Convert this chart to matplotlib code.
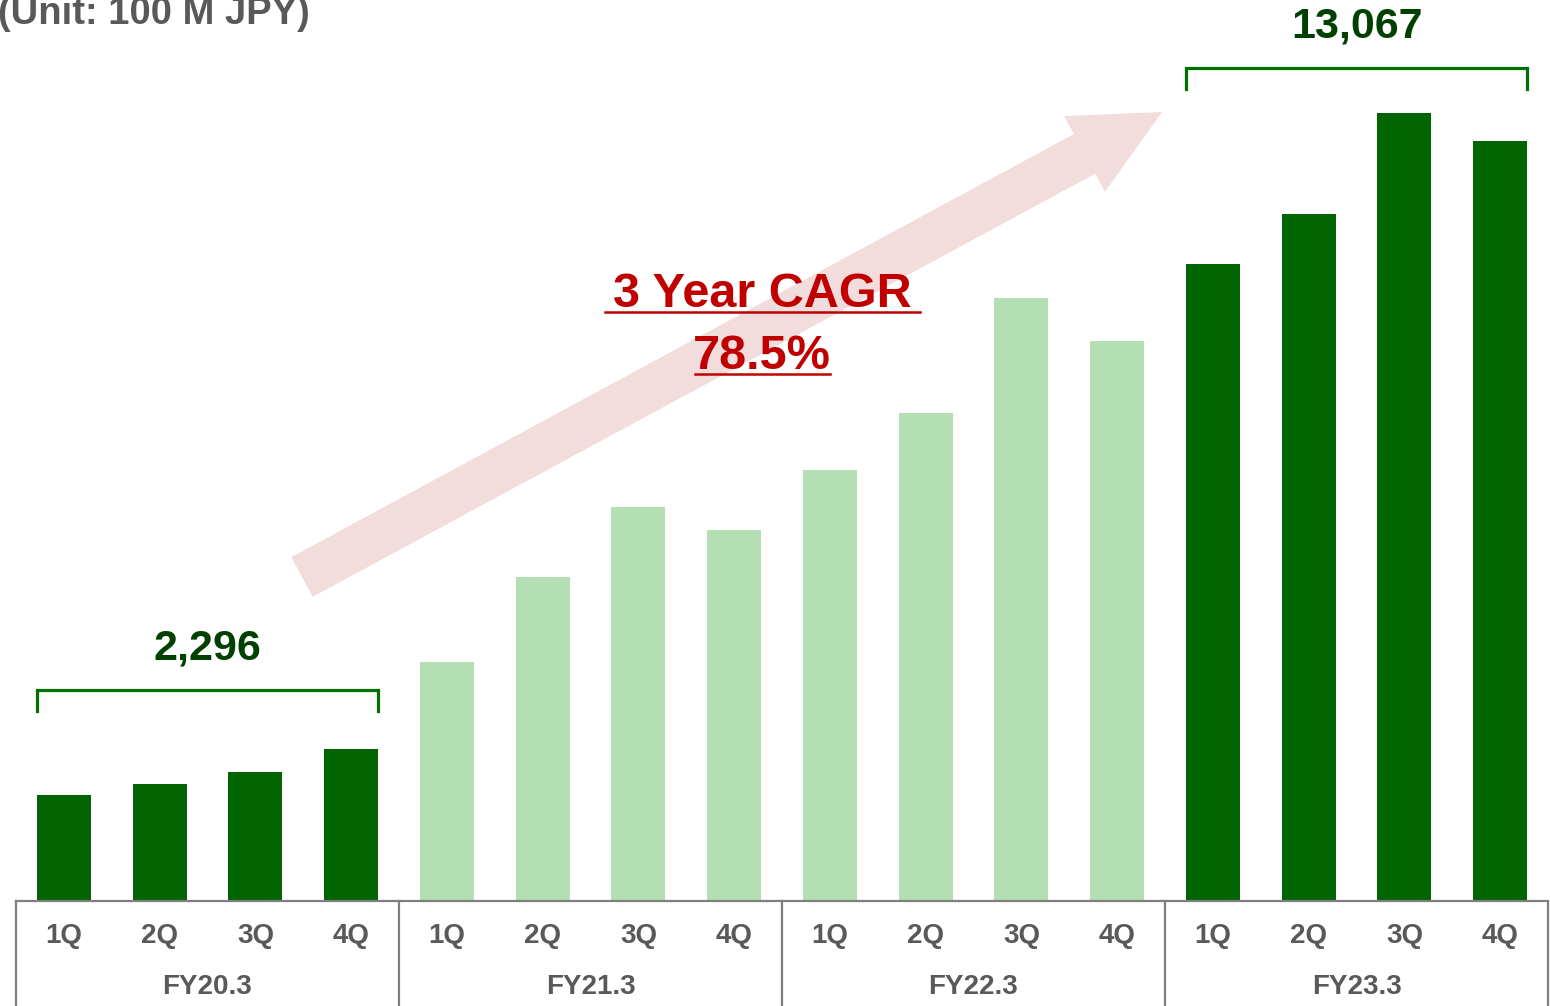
import matplotlib.pyplot as plt
from matplotlib.patches import FancyArrow
from matplotlib.lines import Line2D

plt.rcParams["font.family"] = ["Liberation Sans", "DejaVu Sans"]

fiscal_years = ["FY20.3", "FY21.3", "FY22.3", "FY23.3"]
quarters = ["1Q", "2Q", "3Q", "4Q"]
fy20 = [484, 534, 585, 693]
fy21 = [1088, 1474, 1793, 1688]
fy22 = [1961, 2221, 2744, 2548]
fy23 = [2900, 3124, 3585, 3458]
totals = {"FY20.3": "2,296", "FY23.3": "13,067"}

DARK = "#006400"
LIGHT = "#b3dfb3"
GRAY = "#595959"
LINE = "#7f7f7f"

W, H = 1550, 1006
fig = plt.figure(figsize=(W / 100, H / 100), dpi=100)


def fx(px):
    return px / W


def fy(py):
    return 1 - py / H


ax = fig.add_axes([fx(16), fy(901), fx(1548) - fx(16), fy(0) - fy(901)])
ax.set_xlim(-0.5, 15.5)
ax.set_ylim(0, 4100)
ax.axis("off")

groups = [fy20, fy21, fy22, fy23]
colors = [DARK, LIGHT, LIGHT, DARK]
for g, (vals, col) in enumerate(zip(groups, colors)):
    xs = [g * 4 + i for i in range(4)]
    ax.bar(xs, vals, width=0.564, color=col, zorder=3)

# brackets with totals over first and last year
for g, offset in [(0, 267), (3, 205)]:
    vals = groups[g]
    top = max(vals) + offset
    x0 = g * 4 - 0.28
    x1 = g * 4 + 3 + 0.28
    ax.plot([x0, x0, x1, x1], [top - 95, top, top, top - 95],
            color="#007000", lw=2.3, solid_joinstyle="miter", zorder=4)
    ax.text((x0 + x1) / 2, top + 100, totals[fiscal_years[g]],
            ha="center", va="bottom", fontsize=31, fontweight="bold",
            color="#004000")

# growth arrow
arrow = FancyArrow(3.02, 4.29, 8.60, 4.65, width=0.45, head_width=0.86,
                   head_length=0.88, length_includes_head=True,
                   color="#f2dcdc", lw=0, transform=fig.dpi_scale_trans,
                   zorder=1)
fig.add_artist(arrow)

red = "#c00000"
fig.text(fx(762), fy(307), "3 Year CAGR", ha="center", va="baseline",
         fontsize=35, fontweight="bold", color=red)
fig.add_artist(Line2D([fx(605), fx(920)], [fy(312), fy(312)], color=red, lw=1.8))
fig.text(fx(762), fy(369), "78.5%", ha="center", va="baseline",
         fontsize=35, fontweight="bold", color=red)
fig.add_artist(Line2D([fx(695), fx(830)], [fy(374), fy(374)], color=red, lw=1.8))

fig.text(fx(-2), fy(24), "(Unit: 100 M JPY)", ha="left", va="baseline",
         fontsize=27.5, fontweight="bold", color=GRAY)

# category table below the bars
fig.add_artist(Line2D([fx(16), fx(1548)], [fy(901), fy(901)], color=LINE, lw=1.6))
for px in [16, 399, 782, 1165, 1548]:
    fig.add_artist(Line2D([fx(px), fx(px)], [fy(901), fy(1006)], color=LINE, lw=1.6))

for g, fyname in enumerate(fiscal_years):
    for i, q in enumerate(quarters):
        ax.text(g * 4 + i, -158, q, ha="center", va="center",
                fontsize=20, fontweight="bold", color=GRAY, clip_on=False)
    ax.text(g * 4 + 1.5, -390, fyname, ha="center", va="center",
            fontsize=20, fontweight="bold", color=GRAY, clip_on=False)

fig.savefig("out.png", dpi=100)
